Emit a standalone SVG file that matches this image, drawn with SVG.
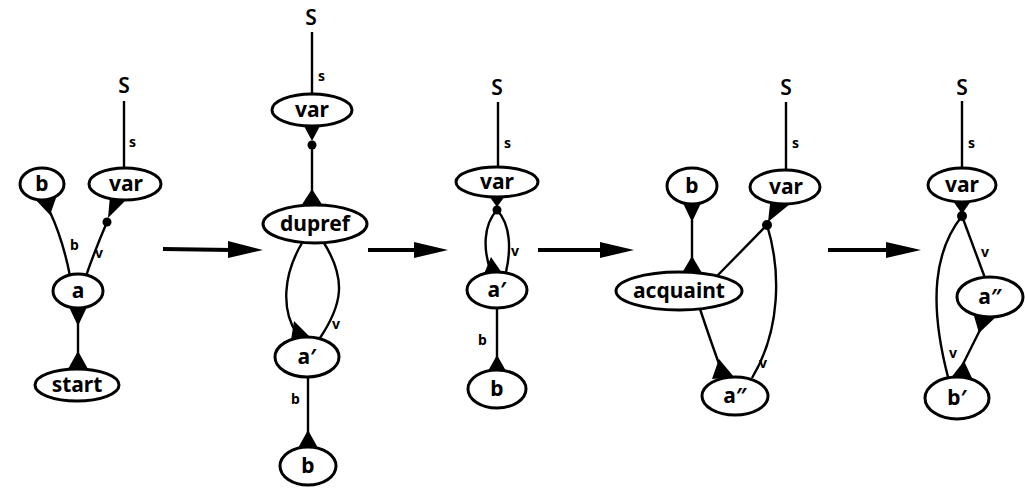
<svg xmlns="http://www.w3.org/2000/svg" width="1025" height="488" viewBox="0 0 1025 488">
<style>
.n ellipse{fill:#fff;stroke:#000;stroke-width:3}
.n text{font-family:"Noto Sans","DejaVu Sans",sans-serif;font-weight:bold;font-size:21px;text-anchor:middle;fill:#000}
.e path,.e line{fill:none;stroke:#000;stroke-width:2.4}
.m{fill:#000;stroke:none}
.lbl{font-family:"Noto Sans","DejaVu Sans",sans-serif;font-weight:bold;font-size:14px;fill:#000}
.big{font-family:"Noto Sans","DejaVu Sans",sans-serif;font-weight:600;font-size:21px;fill:#000;text-anchor:middle}
.arr line{stroke:#000;stroke-width:4}
.arr polygon{fill:#000}
</style>
<rect width="1025" height="488" fill="#fff"/>

<!-- connectors -->
<g id="connectors" class="e">
  <!-- diagram 1 -->
  <line x1="124" y1="101" x2="124" y2="169"/>
  <path d="M50 212 Q63 240 70 276"/>
  <path d="M107 222 Q95 250 86 276"/>
  <line x1="78" y1="308" x2="78" y2="368"/>
  <!-- diagram 2 -->
  <line x1="312" y1="32" x2="312" y2="95"/>
  <line x1="312" y1="145" x2="312" y2="205"/>
  <path d="M302 243 C283 275 281 310 297 334"/>
  <path d="M324 243 C347 280 342 305 320 338"/>
  <line x1="308" y1="377" x2="308" y2="447"/>
  <!-- diagram 3 -->
  <line x1="498" y1="102" x2="498" y2="167"/>
  <path d="M497 210 C483 225 483 250 491 272"/>
  <path d="M497 210 C511 225 511 250 506 272"/>
  <line x1="497" y1="308" x2="497" y2="370"/>
  <!-- diagram 4 -->
  <line x1="786" y1="102" x2="786" y2="169"/>
  <line x1="692" y1="220" x2="692" y2="260"/>
  <path d="M767 225 L717 276"/>
  <path d="M767 225 C781 270 781 330 752 378"/>
  <path d="M700 309 Q712 345 722 372"/>
  <!-- diagram 5 -->
  <line x1="962" y1="101" x2="962" y2="168"/>
  <path d="M962 216 L985 278"/>
  <path d="M981 328 L962 366"/>
  <path d="M962 216 C935 250 928 300 948 377"/>

  <!-- markers -->
  <g class="m">
    <!-- d1 -->
    <polygon points="33,197 56,198 50,215"/>
    <polygon points="110,196 128,198 108,218"/>
    <circle cx="107" cy="222" r="4.5"/>
    <polygon points="69,307 87,307 78,326"/>
    <polygon points="68,369 88,369 78,351"/>
    <!-- d2 -->
    <polygon points="303,124 321,124 312,141"/>
    <circle cx="312" cy="145" r="4.5"/>
    <polygon points="301,206 323,206 312,189"/>
    <polygon points="291,340 311,338 294,321"/>
    <polygon points="298,448 318,448 308,430"/>
    <!-- d3 -->
    <polygon points="489,196 505,196 497,207"/>
    <circle cx="497" cy="210" r="4.5"/>
    <polygon points="484,274 502,273 491,257"/>
    <polygon points="488,371 506,371 497,355"/>
    <!-- d4 -->
    <polygon points="683,203 701,203 692,222"/>
    <polygon points="682,273 702,273 692,256"/>
    <polygon points="770,204 790,204 768,222"/>
    <circle cx="767" cy="225" r="5"/>
    <polygon points="712,379 734,377 719,359"/>
    <!-- d5 -->
    <polygon points="953,201 971,201 962,214"/>
    <circle cx="962" cy="216" r="5"/>
    <polygon points="974,316 998,315 979,333"/>
    <polygon points="950,379 972,378 964,361"/>
  </g>
</g>

<!-- edge labels -->
<g id="labels">
  <text class="big" x="124" y="93">S</text>
  <text class="lbl" x="129" y="147">s</text>
  <text class="lbl" x="70" y="250">b</text>
  <text class="lbl" x="95" y="258">v</text>

  <text class="big" x="311" y="25">S</text>
  <text class="lbl" x="318" y="81">s</text>
  <text class="lbl" x="332" y="329">v</text>
  <text class="lbl" x="291" y="404">b</text>

  <text class="big" x="497" y="95">S</text>
  <text class="lbl" x="504" y="148">s</text>
  <text class="lbl" x="511" y="256">v</text>
  <text class="lbl" x="478" y="345">b</text>

  <text class="big" x="786" y="95">S</text>
  <text class="lbl" x="792" y="148">s</text>
  <text class="lbl" x="759" y="368">v</text>

  <text class="big" x="962" y="95">S</text>
  <text class="lbl" x="968" y="148">s</text>
  <text class="lbl" x="981" y="257">v</text>
  <text class="lbl" x="949" y="358">v</text>
</g>

<!-- transformation arrows -->
<g id="arrows" class="arr">
  <line x1="163" y1="249" x2="232" y2="250"/>
  <polygon points="228,241 263,250 228,258"/>
  <line x1="368" y1="250" x2="418" y2="250"/>
  <polygon points="414,242 448,250 414,258"/>
  <line x1="538" y1="250" x2="604" y2="250"/>
  <polygon points="600,242 634,250 600,258"/>
  <line x1="828" y1="250" x2="890" y2="250"/>
  <polygon points="886,242 921,250 886,258"/>
</g>

<!-- nodes diagram 1 -->
<g id="d1-b" class="n"><ellipse cx="42" cy="184" rx="22" ry="16"/><text x="42" y="191">b</text></g>
<g id="d1-var" class="n"><ellipse cx="125" cy="184" rx="36" ry="16"/><text x="126" y="191">var</text></g>
<g id="d1-a" class="n"><ellipse cx="78" cy="291" rx="25" ry="17"/><text x="78" y="298">a</text></g>
<g id="d1-start" class="n"><ellipse cx="77" cy="385" rx="42" ry="16"/><text x="77" y="392">start</text></g>

<!-- nodes diagram 2 -->
<g id="d2-var" class="n"><ellipse cx="312" cy="110" rx="40" ry="16"/><text x="312" y="117">var</text></g>
<g id="d2-dupref" class="n"><ellipse cx="315" cy="224" rx="52" ry="19"/><text x="315" y="231">dupref</text></g>
<g id="d2-a1" class="n"><ellipse cx="307" cy="357" rx="32" ry="20"/><text x="307" y="364">a′</text></g>
<g id="d2-b" class="n"><ellipse cx="308" cy="466" rx="28" ry="19"/><text x="308" y="473">b</text></g>

<!-- nodes diagram 3 -->
<g id="d3-var" class="n"><ellipse cx="497" cy="182" rx="41" ry="15"/><text x="497" y="189">var</text></g>
<g id="d3-a1" class="n"><ellipse cx="497" cy="290" rx="30" ry="18"/><text x="497" y="297">a′</text></g>
<g id="d3-b" class="n"><ellipse cx="497" cy="389" rx="29" ry="19"/><text x="497" y="396">b</text></g>

<!-- nodes diagram 4 -->
<g id="d4-b" class="n"><ellipse cx="692" cy="186" rx="25" ry="18"/><text x="692" y="193">b</text></g>
<g id="d4-var" class="n"><ellipse cx="785" cy="187" rx="35" ry="17"/><text x="786" y="194">var</text></g>
<g id="d4-acquaint" class="n"><ellipse cx="679" cy="291" rx="63" ry="19"/><text x="679" y="298">acquaint</text></g>
<g id="d4-a2" class="n"><ellipse cx="735" cy="396" rx="33" ry="19"/><text x="735" y="403">a″</text></g>

<!-- nodes diagram 5 -->
<g id="d5-var" class="n"><ellipse cx="962" cy="185" rx="34" ry="17"/><text x="962" y="192">var</text></g>
<g id="d5-a2" class="n"><ellipse cx="990" cy="297" rx="33" ry="20"/><text x="990" y="304">a″</text></g>
<g id="d5-b1" class="n"><ellipse cx="957" cy="398" rx="32" ry="21"/><text x="957" y="405">b′</text></g>
</svg>
